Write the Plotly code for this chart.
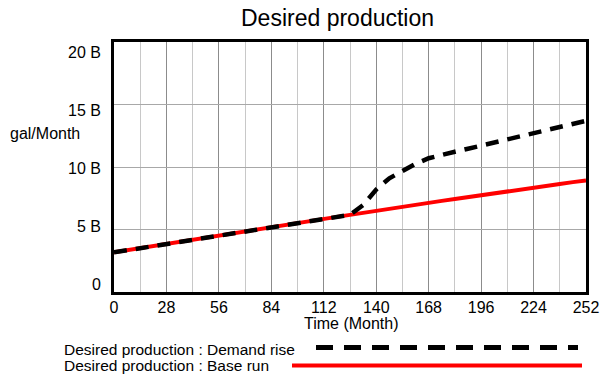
import plotly.graph_objects as go

# ---- data (values in billions of gal/Month) ----
time_month = [0, 7, 14, 21, 28, 35, 42, 49, 56, 63, 70, 77, 84, 91, 98, 105, 112, 119, 126,
              133, 140, 147, 154, 161, 168, 175, 182, 189, 196, 203, 210, 217, 224, 231, 238, 245, 252]
base_run = [3.17, 3.34, 3.52, 3.70, 3.87, 4.04, 4.20, 4.37, 4.53, 4.70, 4.86, 5.03, 5.19, 5.36,
            5.52, 5.69, 5.85, 6.01, 6.17, 6.34, 6.50, 6.66, 6.82, 6.98, 7.13, 7.29, 7.44, 7.60,
            7.75, 7.90, 8.05, 8.20, 8.35, 8.50, 8.64, 8.79, 8.93]
demand_rise = [3.17, 3.34, 3.52, 3.70, 3.87, 4.04, 4.20, 4.37, 4.53, 4.70, 4.86, 5.03, 5.19, 5.36,
               5.52, 5.69, 5.85, 6.01, 6.17, 6.95, 8.20, 9.10, 9.70, 10.25, 10.70, 11.00, 11.22,
               11.46, 11.70, 11.95, 12.20, 12.45, 12.70, 12.95, 13.20, 13.45, 13.70]

x_tickvals = [0, 28, 56, 84, 112, 140, 168, 196, 224, 252]
x_ticktext = [str(v) for v in x_tickvals]
x_minorvals = [14, 42, 70, 98, 126, 154, 182, 210, 238]
y_tickvals = [0, 5, 10, 15, 20]
y_ticktext = ["0", "5 B", "10 B", "15 B", "20 B"]

title_text = "Desired production"
y_title = "gal/Month"
x_title = "Time (Month)"
legend_names = ["Desired production : Demand rise", "Desired production : Base run"]

FONT = "Liberation Sans, Arial, sans-serif"
W, H = 600, 376
L, R, T, B = 114, 586, 42, 292


def px_x(p):
    return (p - L) / (R - L)


def px_y(p):
    return (B - p) / (B - T)


fig = go.Figure()
fig.add_trace(go.Scatter(x=time_month, y=base_run, mode="lines",
                         line=dict(color="#ff0000", width=4), showlegend=False))
fig.add_trace(go.Scatter(x=time_month, y=demand_rise, mode="lines",
                         line=dict(color="#000000", width=4.5, dash="13px,9px"), showlegend=False))
# empty trace hosting the label axis
fig.add_trace(go.Scatter(x=[], y=[], yaxis="y2", showlegend=False, hoverinfo="skip"))

fig.update_layout(
    width=W, height=H, autosize=False,
    margin=dict(l=L, r=W - R, t=T, b=H - B, pad=0),
    paper_bgcolor="white", plot_bgcolor="white",
    font=dict(family=FONT, size=16, color="black"),
    xaxis=dict(range=[0, 252], tickmode="array", tickvals=x_tickvals, ticktext=x_ticktext,
               showgrid=True, gridcolor="#8c8c8c", gridwidth=1,
               minor=dict(tickmode="array", tickvals=x_minorvals, showgrid=True,
                          gridcolor="#c8c8c8", gridwidth=1),
               showline=True, linecolor="black", linewidth=3, mirror=True,
               ticks="", zeroline=False, ticklabelstandoff=-1, automargin=False,
               tickfont=dict(family=FONT, size=16)),
    yaxis=dict(range=[0, 20], tickmode="array", tickvals=y_tickvals,
               showticklabels=False, showgrid=True, gridcolor="#a8a8a8", gridwidth=1,
               showline=True, linecolor="black", linewidth=3, mirror=True,
               ticks="", zeroline=False, automargin=False),
    yaxis2=dict(overlaying="y", side="left", range=[-0.69, 20.86], tickmode="array",
                tickvals=y_tickvals, ticktext=y_ticktext, showgrid=False, zeroline=False,
                showline=False, ticks="", ticklabelstandoff=12, automargin=False,
                tickfont=dict(family=FONT, size=16)),
)

ann = []
ann.append(dict(text=title_text, x=px_x(337), y=px_y(18), xref="paper", yref="paper",
                xanchor="center", yanchor="middle", showarrow=False,
                font=dict(family=FONT, size=23)))
ann.append(dict(text=y_title, x=px_x(45), y=px_y(133), xref="paper", yref="paper",
                xanchor="center", yanchor="middle", showarrow=False,
                font=dict(family=FONT, size=16)))
ann.append(dict(text=x_title, x=px_x(351), y=px_y(323), xref="paper", yref="paper",
                xanchor="center", yanchor="middle", showarrow=False,
                font=dict(family=FONT, size=16)))
ann.append(dict(text=legend_names[0], x=px_x(62), y=px_y(349), xref="paper", yref="paper",
                xanchor="left", yanchor="middle", showarrow=False,
                font=dict(family=FONT, size=15.5)))
ann.append(dict(text=legend_names[1], x=px_x(62), y=px_y(365), xref="paper", yref="paper",
                xanchor="left", yanchor="middle", showarrow=False,
                font=dict(family=FONT, size=15.5)))
fig.update_layout(annotations=ann)

fig.add_shape(type="line", xref="paper", yref="paper",
              x0=px_x(316), x1=px_x(578), y0=px_y(347.5), y1=px_y(347.5),
              line=dict(color="black", width=5, dash="17px,11px"))
fig.add_shape(type="line", xref="paper", yref="paper",
              x0=px_x(292), x1=px_x(582), y0=px_y(365.5), y1=px_y(365.5),
              line=dict(color="#ff0000", width=4))

fig.write_html("out.html",
               config={"displayModeBar": False},
               post_script="document.body.style.margin='0px';document.body.style.padding='0px';document.body.style.overflow='hidden';")
